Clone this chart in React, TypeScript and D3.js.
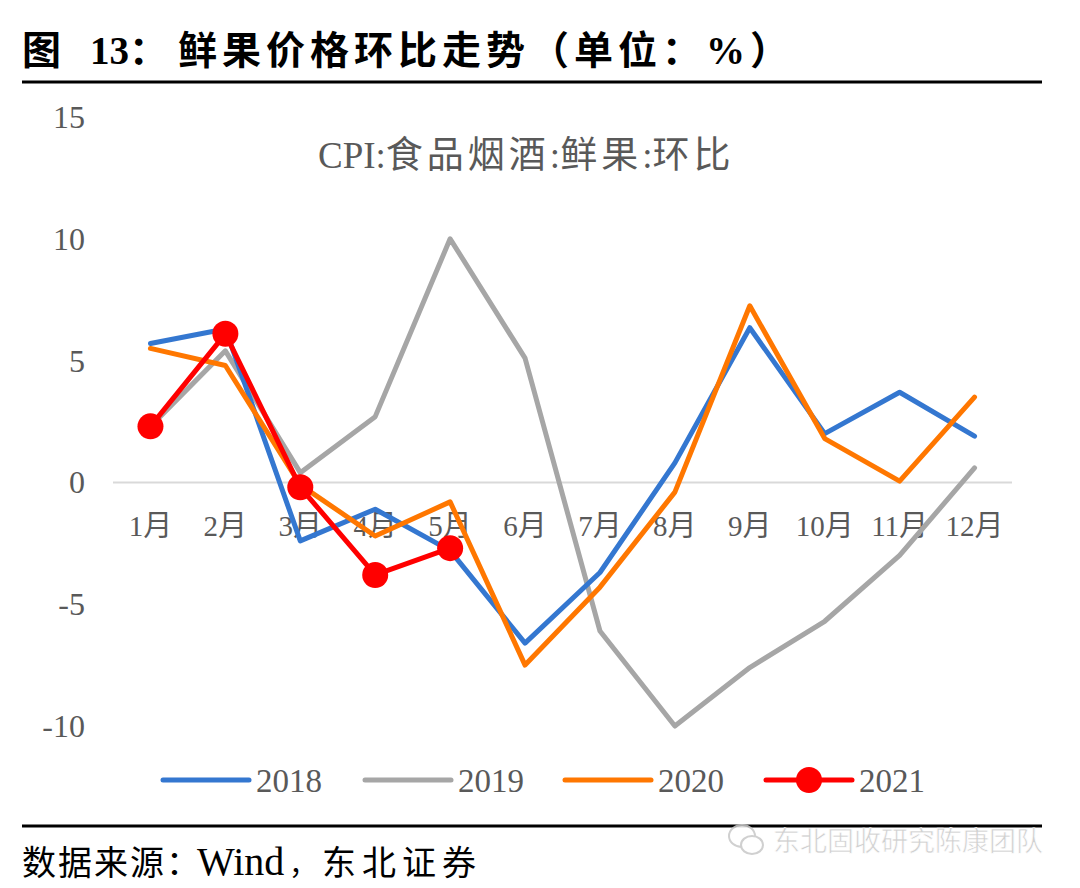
import * as React from 'react';
import * as d3 from 'd3';

const months = ['1月', '2月', '3月', '4月', '5月', '6月', '7月', '8月', '9月', '10月', '11月', '12月'];
const s2018 = [5.7, 6.3, -2.4, -1.1, -2.8, -6.6, -3.7, 0.8, 6.35, 2.0, 3.7, 1.9];
const s2019 = [2.3, 5.4, 0.4, 2.7, 10.0, 5.1, -6.1, -10.0, -7.6, -5.7, -3.0, 0.6];
const s2020 = [5.5, 4.8, -0.1, -2.2, -0.8, -7.5, -4.3, -0.4, 7.25, 1.8, 0.05, 3.5];
const s2021 = [2.3, 6.1, -0.2, -3.8, -2.7];
const yTicks = [15, 10, 5, 0, -5, -10];
const seriesNames = ['2018', '2019', '2020', '2021'];
const seriesColors = ['#3477d0', '#a6a6a6', '#ff7700', '#ff0000'];

const serif = '"Liberation Serif", "Times New Roman", "Noto Sans CJK SC", serif';

export default function App() {
  const ref = React.useRef<SVGSVGElement>(null);

  React.useEffect(() => {
    const svg = d3.select(ref.current);
    svg.selectAll('*').remove();

    const x = d3.scaleBand().domain(months).range([113, 1012]);
    const y = d3.scaleLinear().domain([-10, 15]).range([726, 117]);
    const cx = (i: number) => (x(months[i]) as number) + x.bandwidth() / 2;

    // title
    const title = svg.append('text')
      .attr('y', 64)
      .style('font-family', serif)
      .style('font-weight', 'bold')
      .style('font-size', '39px')
      .attr('fill', '#000');
    title.append('tspan').attr('x', 22).text('图');
    title.append('tspan').attr('x', 90).text('13：');
    title.append('tspan').attr('x', 178).style('letter-spacing', '5px')
      .text('鲜果价格环比走势（单位：%）');
    svg.append('line')
      .attr('x1', 22).attr('x2', 1042).attr('y1', 82).attr('y2', 82)
      .attr('stroke', '#000').attr('stroke-width', 3);

    // subtitle
    const sub = svg.append('text')
      .attr('x', 318).attr('y', 168)
      .style('font-family', serif)
      .style('font-size', '37px')
      .attr('fill', '#595959');
    sub.append('tspan').text('CPI:');
    sub.append('tspan').style('letter-spacing', '4px').text('食品烟酒');
    sub.append('tspan').text(':');
    sub.append('tspan').style('letter-spacing', '4px').text('鲜果');
    sub.append('tspan').text(':');
    sub.append('tspan').style('letter-spacing', '4px').text('环比');

    // y labels
    svg.append('g').selectAll('text')
      .data(yTicks)
      .enter()
      .append('text')
      .attr('x', 85)
      .attr('y', d => y(d) + 11)
      .attr('text-anchor', 'end')
      .style('font-family', serif)
      .style('font-size', '32px')
      .attr('fill', '#595959')
      .text(d => d);

    // zero line
    svg.append('line')
      .attr('x1', 113).attr('x2', 1012).attr('y1', y(0)).attr('y2', y(0))
      .attr('stroke', '#d9d9d9').attr('stroke-width', 2);

    // month labels
    svg.append('g').selectAll('text')
      .data(months)
      .enter()
      .append('text')
      .attr('x', (d, i) => cx(i))
      .attr('y', 536)
      .attr('text-anchor', 'middle')
      .style('font-family', serif)
      .style('font-size', '29px')
      .attr('fill', '#595959')
      .text(d => d);

    const line = d3.line<number>()
      .x((d, i) => cx(i))
      .y(d => y(d));

    const all = [s2018, s2019, s2020, s2021];
    const order = [1, 0, 2, 3];
    order.forEach(k => {
      svg.append('path')
        .datum(all[k])
        .attr('d', line)
        .attr('fill', 'none')
        .attr('stroke', seriesColors[k])
        .attr('stroke-width', 5)
        .attr('stroke-linejoin', 'round')
        .attr('stroke-linecap', 'round');
    });
    svg.append('g').selectAll('circle')
      .data(s2021)
      .enter()
      .append('circle')
      .attr('cx', (d, i) => cx(i))
      .attr('cy', d => y(d))
      .attr('r', 13)
      .attr('fill', seriesColors[3]);

    // legend
    const legendX = [163, 365, 565, 766];
    seriesNames.forEach((name, k) => {
      const g = svg.append('g').attr('transform', 'translate(' + legendX[k] + ',780)');
      g.append('line')
        .attr('x1', 0).attr('x2', 86).attr('y1', 0).attr('y2', 0)
        .attr('stroke', seriesColors[k]).attr('stroke-width', 5)
        .attr('stroke-linecap', 'round');
      if (k === 3) {
        g.append('circle').attr('cx', 43).attr('cy', 0).attr('r', 13).attr('fill', seriesColors[3]);
      }
      g.append('text')
        .attr('x', 93).attr('y', 12)
        .style('font-family', serif)
        .style('font-size', '33px')
        .attr('fill', '#595959')
        .text(name);
    });

    // footer
    svg.append('line')
      .attr('x1', 22).attr('x2', 1042).attr('y1', 826).attr('y2', 826)
      .attr('stroke', '#000').attr('stroke-width', 3);
    const src = svg.append('text')
      .attr('y', 875)
      .style('font-family', serif)
      .style('font-size', '34px')
      .attr('fill', '#000');
    src.append('tspan').attr('x', 22).style('letter-spacing', '2px').text('数据来源：');
    src.append('tspan').attr('x', 197).style('font-size', '40px').text('Wind');
    src.append('tspan').attr('x', 289).style('font-size', '28px').text('，');
    src.append('tspan').attr('x', 322).style('letter-spacing', '6px').text('东北证券');

    // watermark
    const wm = svg.append('g').attr('opacity', 0.85);
    wm.append('ellipse').attr('cx', 742).attr('cy', 836).attr('rx', 13).attr('ry', 11)
      .attr('fill', '#fff').attr('stroke', '#c8c8c8').attr('stroke-width', 2);
    wm.append('ellipse').attr('cx', 752).attr('cy', 845).attr('rx', 11).attr('ry', 9)
      .attr('fill', '#fff').attr('stroke', '#c8c8c8').attr('stroke-width', 2);
    wm.append('text')
      .attr('x', 1043).attr('y', 851)
      .attr('text-anchor', 'end')
      .style('font-family', '"Noto Sans CJK SC", sans-serif')
      .style('font-size', '27px')
      .attr('fill', '#c8c8c8')
      .attr('stroke', '#fff')
      .attr('stroke-width', 0.6)
      .text('东北固收研究陈康团队');
  }, []);

  return (
    <svg ref={ref} width={1080} height={888}
      style={{ position: 'absolute', left: 0, top: 0, background: '#fff' }} />
  );
}
